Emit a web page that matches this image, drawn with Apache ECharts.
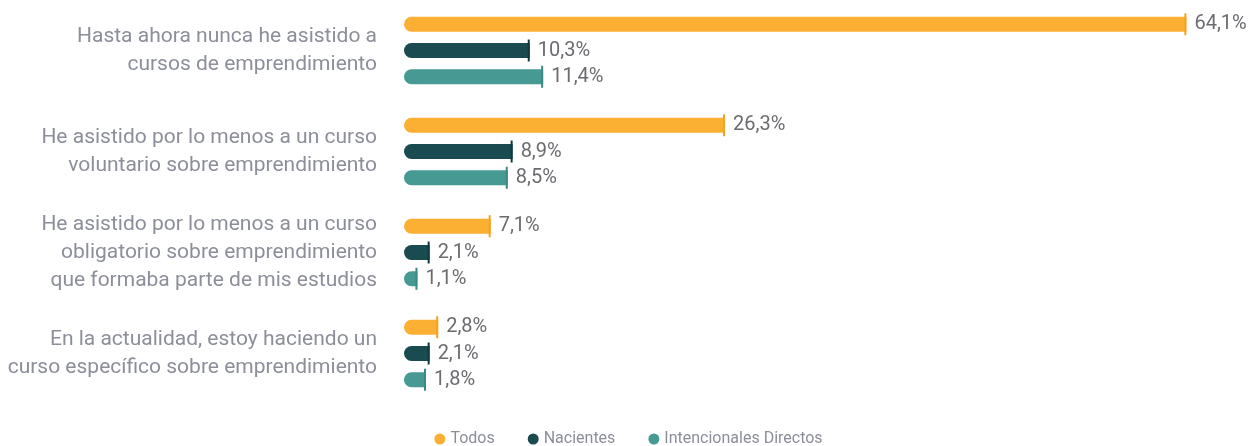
<!DOCTYPE html>
<html>
<head>
<meta charset="utf-8">
<script src="https://cdn.jsdelivr.net/npm/echarts@6/dist/echarts.min.js"></script>
<style>
  html, body { margin: 0; padding: 0; background: #ffffff; }
  #chart { width: 1257px; height: 446px; }
</style>
</head>
<body>
<div id="chart"></div>
<script>
var categories = [
    'Hasta ahora nunca he asistido a\ncursos de emprendimiento',
    'He asistido por lo menos a un curso\nvoluntario sobre emprendimiento',
    'He asistido por lo menos a un curso\nobligatorio sobre emprendimiento\nque formaba parte de mis estudios',
    'En la actualidad, estoy haciendo un\ncurso específico sobre emprendimiento'
]
var seriesNames = ['Todos', 'Nacientes', 'Intencionales Directos']
var todos = [64.1, 26.3, 7.1, 2.8]
var nacientes = [10.3, 8.9, 2.1, 2.1]
var intencionales = [11.4, 8.5, 1.1, 1.8]

var barColors = ['#fbb034', '#1a4b50', '#479a93']
var capColors = ['#f3a322', '#0e3a3e', '#3a8a83']
var values = [todos, nacientes, intencionales]

var series = []
// rounded bars with the value label
for ( var i = 0; i < values.length; i++ ) {
    series.push( {
        name: seriesNames[i],
        type: 'bar',
        data: values[i],
        barWidth: 15,
        barGap: '75%',
        itemStyle: {
            color: barColors[i],
            borderRadius: [7.5, 0, 0, 7.5]
        },
        label: {
            show: true,
            position: 'right',
            distance: 8,
            color: '#6b6c70',
            fontSize: 20,
            fontFamily: 'Roboto',
            formatter: function ( p ) {
                return String( p.value ).replace( '.', ',' ) + '%'
            }
        },
        emphasis: { disabled: true },
        z: 2
    } )
}
// thin end marks
for ( var j = 0; j < values.length; j++ ) {
    series.push( {
        name: seriesNames[j],
        type: 'pictorialBar',
        data: values[j],
        barWidth: 15,
        barGap: '75%',
        symbol: 'rect',
        symbolSize: [2, 22],
        symbolPosition: 'end',
        itemStyle: { color: capColors[j] },
        emphasis: { disabled: true },
        z: 3
    } )
}

var chart = echarts.init( document.getElementById( 'chart' ) )
chart.setOption( {
    animation: false,
    backgroundColor: '#ffffff',
    grid: {
        left: 404,
        right: 23,
        top: -3,
        bottom: 42
    },
    legend: {
        data: seriesNames,
        top: 426,
        left: 'center',
        icon: 'circle',
        itemWidth: 11,
        itemHeight: 11,
        itemGap: 33,
        textStyle: {
            color: '#8c8f99',
            fontSize: 16,
            fontFamily: 'Roboto'
        }
    },
    xAxis: {
        type: 'value',
        min: 0,
        max: 68,
        show: false
    },
    yAxis: {
        type: 'category',
        data: categories,
        inverse: true,
        axisLine: { show: false },
        axisTick: { show: false },
        axisLabel: {
            margin: 27,
            color: '#8c8f99',
            fontSize: 21,
            lineHeight: 28,
            fontFamily: 'Roboto',
            align: 'right'
        }
    },
    series: series
} )
</script>
</body>
</html>
